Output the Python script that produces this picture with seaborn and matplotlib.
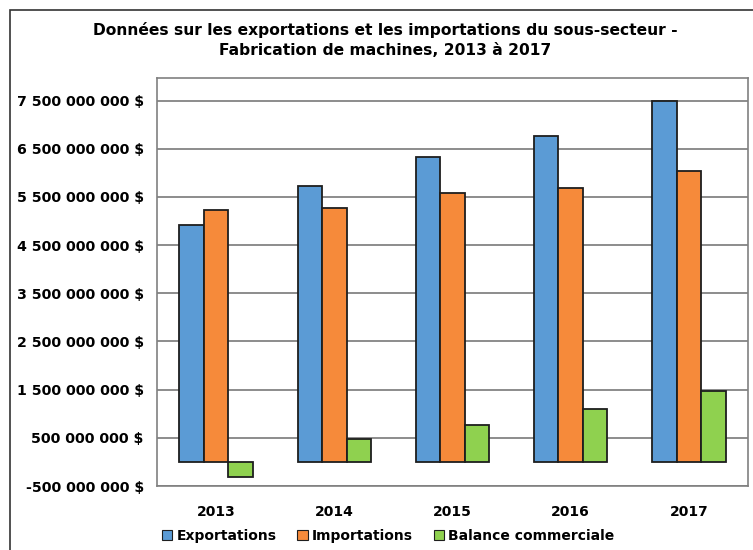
import matplotlib
matplotlib.use("Agg")
import matplotlib.pyplot as plt
import matplotlib.ticker as mticker
from matplotlib.patches import Rectangle, Patch
import seaborn as sns
import pandas as pd

years = ["2013", "2014", "2015", "2016", "2017"]
exportations = [4.91e9, 5.73e9, 6.34e9, 6.77e9, 7.50e9]
importations = [5.23e9, 5.27e9, 5.58e9, 5.68e9, 6.04e9]
balance = [-0.31e9, 0.47e9, 0.77e9, 1.10e9, 1.48e9]
series_names = ["Exportations", "Importations", "Balance commerciale"]
colors = ["#5B9BD5", "#F68A3A", "#8FD14F"]
yticks = [-0.5e9, 0.5e9, 1.5e9, 2.5e9, 3.5e9, 4.5e9, 5.5e9, 6.5e9, 7.5e9]
title = "Données sur les exportations et les importations du sous-secteur -\nFabrication de machines, 2013 à 2017"

rows = []
for name, vals in zip(series_names, [exportations, importations, balance]):
    for y, v in zip(years, vals):
        rows.append({"Année": y, "Série": name, "Valeur": v})
df = pd.DataFrame(rows)

sns.set_theme(style="white")
plt.rcParams["font.family"] = ["DejaVu Sans"]
plt.rcParams["text.color"] = "black"
plt.rcParams["xtick.color"] = "black"
plt.rcParams["ytick.color"] = "black"

fig = plt.figure(figsize=(7.53, 5.5), dpi=100)
ax = fig.add_axes([157 / 753, (550 - 486) / 550, (748 - 157) / 753, (486 - 78) / 550])

for yv in yticks:
    ax.axhline(yv, color="#8c8c8c", lw=1.4, zorder=0)

sns.barplot(data=df, x="Année", y="Valeur", hue="Série", palette=colors,
            width=0.62, gap=0, edgecolor="#1e1e1e", linewidth=1.3,
            saturation=1, ax=ax, legend=False, zorder=3)

ax.set_xlim(-0.5, 4.5)
ax.set_ylim(-0.5e9, 7.97e9)
ax.set_yticks(yticks)
ax.yaxis.set_major_formatter(mticker.FuncFormatter(
    lambda v, p: f"{v:,.0f}".replace(",", " ") + " $"))
ax.set_xlabel("")
ax.set_ylabel("")
ax.tick_params(axis="y", labelsize=10.2, pad=9.5, length=0, labelcolor="black")
ax.tick_params(axis="x", labelsize=10, pad=14, length=0, labelcolor="black")
for lab in ax.get_xticklabels() + ax.get_yticklabels():
    lab.set_fontweight("bold")
for s in ax.spines.values():
    s.set_color("#808080")
    s.set_linewidth(1.2)
    s.set_visible(True)

fig.text(385 / 753, 1 - 40 / 550, title, ha="center", va="center",
         fontsize=11.2, fontweight="bold", linespacing=1.35, color="black")

handles = [Patch(facecolor=c, edgecolor="#1e1e1e", linewidth=0.8) for c in colors]
fig.legend(handles, series_names, loc="center", bbox_to_anchor=(388 / 753, 1 - 536 / 550),
           ncol=3, frameon=False, handlelength=0.75, handleheight=0.75,
           handletextpad=0.3, columnspacing=1.5, labelcolor="black",
           prop={"weight": "bold", "size": 10})

fig.patches.append(Rectangle((10 / 753, -0.05), 1.2, (550 - 10) / 550 + 0.05,
                             transform=fig.transFigure, fill=False,
                             edgecolor="#333333", lw=1.2))

fig.savefig("out.png", dpi=100)
